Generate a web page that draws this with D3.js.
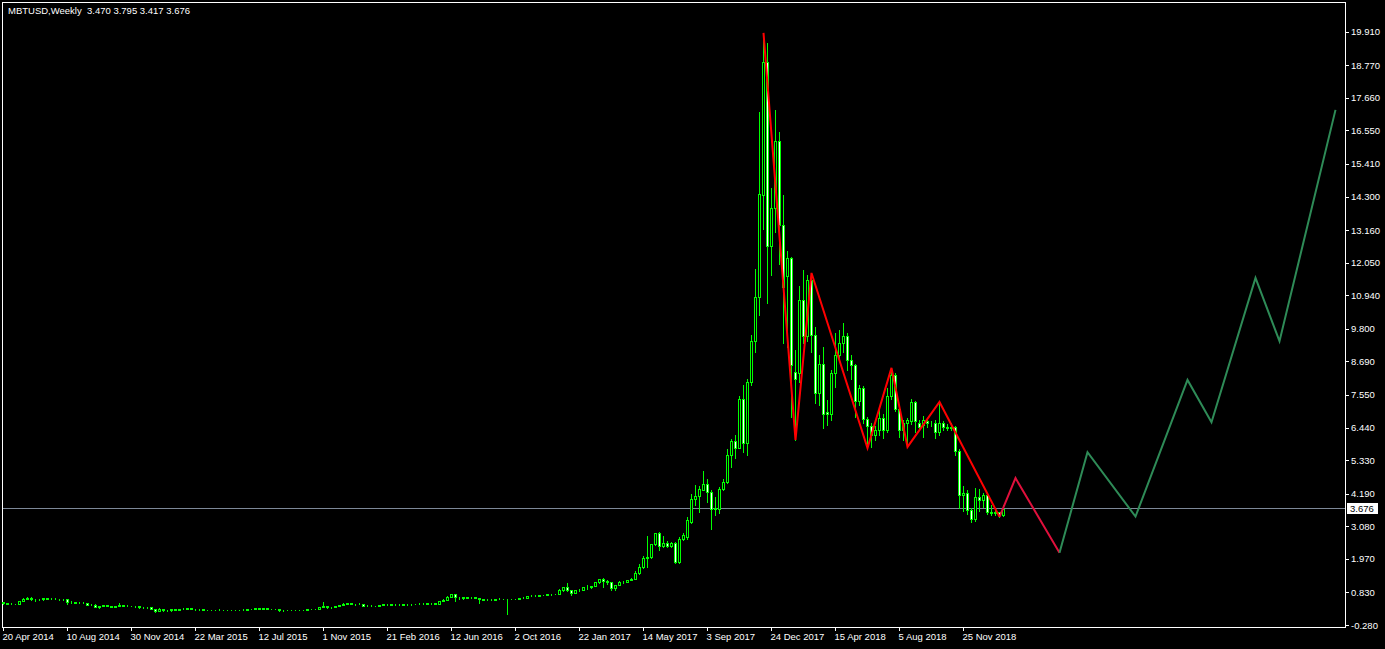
<!DOCTYPE html>
<html>
<head>
<meta charset="utf-8">
<script src="https://cdn.jsdelivr.net/npm/d3@7"></script>
<style>
  body { margin: 0; background: #000; }
  svg { display: block; }
  .axis text { fill: #fff; font-family: "Liberation Sans", Arial, sans-serif; font-size: 9.5px; }
  .axis line { stroke: #fff; shape-rendering: crispEdges; }
  .axis path { display: none; }
</style>
</head>
<body>
<div id="chart"></div>
<script>
// weekly bars, index 0 = week of 20 Apr 2014 (values in thousands)
var opens = [
 0.50,0.46,0.44,0.44,0.45,0.53,0.62,0.65,0.59,0.60,0.59,0.63,0.62,0.62,0.60,0.59,
 0.59,0.50,0.51,0.48,0.48,0.48,0.40,0.41,0.32,0.36,0.39,0.35,0.33,0.37,0.39,0.38,
 0.38,0.37,0.35,0.32,0.32,0.32,0.27,0.21,0.25,0.23,0.22,0.26,0.24,0.27,0.28,0.29,
 0.26,0.25,0.25,0.22,0.22,0.23,0.24,0.24,0.24,0.24,0.23,0.23,0.23,0.24,0.26,0.27,
 0.29,0.28,0.29,0.28,0.26,0.26,0.23,0.23,0.24,0.23,0.23,0.24,0.24,0.25,0.27,0.28,
 0.33,0.37,0.33,0.32,0.36,0.39,0.45,0.46,0.42,0.43,0.45,0.38,0.38,0.38,0.37,0.40,
 0.42,0.43,0.41,0.41,0.41,0.42,0.42,0.42,0.43,0.45,0.45,0.46,0.46,0.45,0.53,0.58,
 0.68,0.76,0.67,0.67,0.65,0.66,0.66,0.65,0.59,0.57,0.58,0.58,0.61,0.61,0.61,0.60,
 0.61,0.62,0.64,0.65,0.70,0.70,0.70,0.74,0.73,0.77,0.77,0.79,0.90,1.00,0.90,0.82,
 0.92,0.92,1.02,1.00,1.05,1.18,1.27,1.23,1.17,0.97,1.08,1.19,1.18,1.25,1.30,1.49,
 1.69,2.00,2.03,2.48,2.85,2.41,2.51,2.40,2.51,1.85,2.65,2.70,3.23,4.01,4.11,4.31,
 4.52,4.25,3.67,3.67,4.35,4.59,5.51,5.98,5.75,7.40,5.90,8.00,9.40,10.88,14.35,18.88,
 12.62,13.91,16.19,13.33,11.60,12.22,8.33,8.30,10.78,9.57,11.46,9.60,7.60,8.60,6.97,6.90,
 8.30,8.91,9.32,9.55,8.74,8.57,7.34,7.79,6.73,6.49,6.19,6.36,6.76,6.36,7.51,8.23,
 7.07,6.36,6.59,6.66,7.31,6.59,6.53,6.66,6.59,6.59,6.28,6.59,6.45,6.42,6.45,5.63,
 4.14,4.21,3.63,3.33,4.07,3.97,4.14,3.57,3.53,3.55,3.470
];
var highs = [
 0.51,0.47,0.46,0.45,0.53,0.63,0.68,0.67,0.62,0.61,0.65,0.64,0.63,0.63,0.60,0.60,
 0.59,0.53,0.51,0.49,0.49,0.48,0.44,0.42,0.37,0.40,0.39,0.36,0.37,0.46,0.39,0.39,
 0.38,0.37,0.35,0.33,0.33,0.32,0.27,0.31,0.25,0.24,0.26,0.26,0.28,0.30,0.30,0.29,
 0.27,0.26,0.26,0.23,0.24,0.24,0.25,0.24,0.24,0.24,0.23,0.24,0.25,0.26,0.27,0.31,
 0.29,0.29,0.30,0.28,0.27,0.26,0.23,0.24,0.24,0.23,0.24,0.24,0.25,0.27,0.28,0.33,
 0.50,0.38,0.34,0.37,0.40,0.46,0.47,0.46,0.44,0.46,0.45,0.41,0.39,0.38,0.40,0.43,
 0.44,0.44,0.42,0.42,0.42,0.42,0.42,0.43,0.46,0.46,0.46,0.46,0.46,0.53,0.59,0.69,
 0.78,0.77,0.68,0.68,0.68,0.68,0.66,0.65,0.60,0.59,0.59,0.61,0.63,0.61,0.61,0.61,
 0.62,0.64,0.66,0.71,0.74,0.74,0.75,0.75,0.77,0.78,0.79,0.93,1.00,1.15,0.92,0.92,
 0.93,1.03,1.07,1.06,1.20,1.28,1.33,1.26,1.17,1.09,1.21,1.21,1.25,1.33,1.55,1.80,
 2.07,2.75,2.49,2.85,2.88,2.75,2.58,2.55,2.55,2.72,2.85,3.40,4.18,4.48,4.45,4.96,
 4.69,4.30,4.08,4.40,4.69,5.70,6.05,6.20,7.50,7.90,8.10,9.60,11.83,17.18,19.87,19.53,
 14.60,17.25,16.50,14.35,12.46,12.25,9.08,11.26,11.80,11.63,11.70,9.86,8.90,9.18,7.38,8.40,
 9.66,9.76,10.00,9.66,8.90,8.60,7.90,7.85,6.80,6.60,6.50,7.04,6.90,7.79,8.47,8.30,
 7.15,6.70,6.75,7.40,7.35,6.70,6.83,6.75,6.65,6.70,7.31,6.65,6.55,6.60,6.50,5.70,
 4.45,4.30,3.70,4.38,4.35,4.20,4.20,3.80,3.65,3.58,3.795
];
var lows = [
 0.44,0.42,0.42,0.43,0.44,0.52,0.61,0.56,0.55,0.56,0.58,0.60,0.61,0.59,0.57,0.58,
 0.45,0.48,0.48,0.47,0.47,0.39,0.39,0.32,0.29,0.36,0.35,0.32,0.32,0.36,0.35,0.36,
 0.36,0.34,0.31,0.31,0.31,0.26,0.17,0.20,0.21,0.21,0.21,0.23,0.23,0.26,0.28,0.25,
 0.24,0.24,0.22,0.22,0.22,0.22,0.23,0.23,0.23,0.22,0.22,0.22,0.23,0.24,0.25,0.26,
 0.27,0.27,0.28,0.26,0.26,0.20,0.21,0.22,0.23,0.22,0.23,0.23,0.24,0.25,0.26,0.28,
 0.32,0.30,0.31,0.32,0.35,0.39,0.43,0.42,0.41,0.42,0.36,0.37,0.37,0.36,0.37,0.40,
 0.41,0.40,0.40,0.41,0.41,0.41,0.41,0.42,0.43,0.44,0.44,0.44,0.44,0.44,0.52,0.57,
 0.66,0.55,0.62,0.62,0.64,0.65,0.65,0.48,0.57,0.57,0.57,0.57,0.60,0.60,0.10,0.59,
 0.60,0.61,0.63,0.65,0.69,0.70,0.70,0.73,0.73,0.75,0.77,0.79,0.89,0.88,0.75,0.82,
 0.88,0.91,0.95,0.99,1.05,1.15,1.00,1.10,0.90,0.92,1.08,1.15,1.17,1.24,1.28,1.45,
 1.65,1.69,2.00,2.45,2.27,2.36,2.37,2.37,1.83,1.83,2.61,2.66,3.20,3.80,3.57,4.30,
 3.91,2.99,3.46,3.53,4.33,4.55,5.10,5.40,5.75,5.60,5.50,7.90,9.00,10.27,13.20,10.68,
 11.63,13.10,12.00,9.30,9.18,6.80,6.02,8.00,9.30,9.40,9.00,7.27,7.20,6.42,6.53,6.70,
 7.82,8.70,9.00,8.40,8.10,6.80,7.20,6.60,5.74,5.78,6.02,6.20,6.10,6.30,7.40,7.00,
 6.12,6.00,5.78,6.55,6.30,6.40,6.12,6.45,6.50,6.10,6.20,6.35,6.35,6.35,5.50,3.70,
 3.60,3.50,3.22,3.25,3.60,3.75,3.50,3.45,3.45,3.40,3.417
];
var closes = [
 0.46,0.44,0.44,0.45,0.53,0.62,0.65,0.59,0.60,0.59,0.63,0.62,0.62,0.60,0.59,0.59,
 0.50,0.51,0.48,0.48,0.48,0.40,0.41,0.32,0.36,0.39,0.35,0.33,0.37,0.39,0.38,0.38,
 0.37,0.35,0.32,0.32,0.32,0.27,0.21,0.25,0.23,0.22,0.26,0.24,0.27,0.28,0.29,0.26,
 0.25,0.25,0.22,0.22,0.23,0.24,0.24,0.24,0.24,0.23,0.23,0.23,0.24,0.26,0.27,0.29,
 0.28,0.29,0.28,0.26,0.26,0.23,0.23,0.24,0.23,0.23,0.24,0.24,0.25,0.27,0.28,0.33,
 0.37,0.33,0.32,0.36,0.39,0.45,0.46,0.42,0.43,0.45,0.38,0.38,0.38,0.37,0.40,0.42,
 0.43,0.41,0.41,0.41,0.42,0.42,0.42,0.43,0.45,0.45,0.46,0.46,0.45,0.53,0.58,0.68,
 0.76,0.67,0.67,0.65,0.66,0.66,0.65,0.59,0.57,0.58,0.58,0.61,0.61,0.61,0.60,0.61,
 0.62,0.64,0.65,0.70,0.70,0.70,0.74,0.73,0.77,0.77,0.79,0.90,1.00,0.90,0.82,0.92,
 0.92,1.02,1.00,1.05,1.18,1.27,1.23,1.17,0.97,1.08,1.19,1.18,1.25,1.30,1.49,1.69,
 2.00,2.03,2.48,2.85,2.41,2.51,2.40,2.51,1.85,2.65,2.78,3.29,4.01,4.11,4.35,4.52,
 4.25,3.67,3.70,4.35,4.59,5.51,5.98,5.75,7.40,5.90,8.00,9.40,10.88,14.39,18.88,12.62,
 13.91,16.19,13.33,11.22,12.22,8.58,8.09,10.78,9.57,11.46,9.60,7.60,8.60,6.90,6.90,8.30,
 8.91,9.32,9.55,8.74,8.57,7.34,7.79,6.73,6.49,6.19,6.36,6.76,6.36,7.51,8.23,7.07,
 6.36,6.59,6.70,7.31,6.66,6.46,6.70,6.59,6.59,6.28,6.59,6.45,6.42,6.45,5.63,4.14,
 4.21,3.63,3.33,4.07,3.97,4.14,3.57,3.53,3.55,3.47,3.676
];

// x axis labels every 16 bars
var xTickIdx = [0,16,32,48,64,80,96,112,128,144,160,176,192,208,224,240];
var xTickLabels = ["20 Apr 2014","10 Aug 2014","30 Nov 2014","22 Mar 2015","12 Jul 2015",
  "1 Nov 2015","21 Feb 2016","12 Jun 2016","2 Oct 2016","22 Jan 2017","14 May 2017",
  "3 Sep 2017","24 Dec 2017","15 Apr 2018","5 Aug 2018","25 Nov 2018"];
var yTicks = [19.910,18.770,17.660,16.550,15.410,14.300,13.160,12.050,10.940,9.800,
  8.690,7.550,6.440,5.330,4.190,3.080,1.970,0.830,-0.280];

// zigzag swings (bar index, price)
var zigIdx = [190,198,202,216,222,226,234,249];
var zigVal = [19.87,6.02,11.70,5.74,8.47,5.78,7.31,3.40];
// projected path
var projRedIdx = [249,253,264];
var projRedVal = [3.40,4.72,2.18];
var projGreenIdx = [264,271,283,296,302,313,319,333];
var projGreenVal = [2.18,5.60,3.41,8.06,6.62,11.53,9.38,17.25];

var lastPrice = 3.676;
var title = "MBTUSD,Weekly  3.470 3.795 3.417 3.676";

var W = 1385, H = 649;

var svg = d3.select("#chart").append("svg")
    .attr("width", W)
    .attr("height", H)
    .style("background", "#000");

var x = d3.scaleLinear().domain([0, 240]).range([3, 963]);
var y = d3.scaleLinear().domain([-0.28, 19.91]).range([625, 31.7]);

// frame
svg.append("rect")
    .attr("x", 2.5).attr("y", 2.5)
    .attr("width", 1343).attr("height", 625)
    .attr("fill", "none").attr("stroke", "#fff")
    .attr("shape-rendering", "crispEdges");

// current price line
var py = Math.floor(y(lastPrice)) + 0.5;
svg.append("line")
    .attr("x1", 3).attr("x2", 1345)
    .attr("y1", py).attr("y2", py)
    .attr("stroke", "#7d8898").attr("stroke-width", 1)
    .attr("shape-rendering", "crispEdges");

// candles
var bars = d3.range(opens.length).map(function(i) {
  return {i: i, o: opens[i], h: Math.max(highs[i], opens[i], closes[i]),
          l: Math.min(lows[i], opens[i], closes[i]), c: closes[i]};
});

var g = svg.append("g").attr("shape-rendering", "crispEdges");

g.selectAll("line.wick")
  .data(bars)
  .enter().append("line")
    .attr("class", "wick")
    .attr("x1", function(d) { return x(d.i) + 0.5; })
    .attr("x2", function(d) { return x(d.i) + 0.5; })
    .attr("y1", function(d) { return Math.round(y(d.h)); })
    .attr("y2", function(d) { return Math.round(y(d.l)) + 1; })
    .attr("stroke", "#00ff00");

g.selectAll("rect.body")
  .data(bars)
  .enter().append("rect")
    .attr("class", "body")
    .attr("x", function(d) { return x(d.i) - 0.5; })
    .attr("y", function(d) { return Math.round(y(Math.max(d.o, d.c))) + 0.5; })
    .attr("width", 2)
    .attr("height", function(d) {
      return Math.round(y(Math.min(d.o, d.c))) - Math.round(y(Math.max(d.o, d.c)));
    })
    .attr("fill", function(d) { return d.c >= d.o ? "#000" : "#fff"; })
    .attr("stroke", "#00ff00");

// zigzag + projection
var line = d3.line()
    .x(function(d) { return x(d[0]) + 0.5; })
    .y(function(d) { return y(d[1]); });

svg.append("path")
    .datum(d3.zip(zigIdx, zigVal))
    .attr("d", line)
    .attr("fill", "none").attr("stroke", "#ff0000").attr("stroke-width", 2);

svg.append("path")
    .datum(d3.zip(projRedIdx, projRedVal))
    .attr("d", line)
    .attr("fill", "none").attr("stroke", "#e0103c").attr("stroke-width", 2);

svg.append("path")
    .datum(d3.zip(projGreenIdx, projGreenVal))
    .attr("d", line)
    .attr("fill", "none").attr("stroke", "#2e8b57").attr("stroke-width", 2);

// Y axis (right)
svg.append("g")
    .attr("class", "axis")
    .attr("transform", "translate(1345,0)")
    .call(d3.axisRight(y).tickValues(yTicks).tickSize(4).tickPadding(2)
      .tickFormat(function(d) { return d.toFixed(3); }));

// X axis
var xAxis = svg.append("g")
    .attr("class", "axis")
    .attr("transform", "translate(0,627)")
    .call(d3.axisBottom(x).tickValues(xTickIdx).tickSize(4).tickPadding(2)
      .tickFormat(function(d, i) { return xTickLabels[i]; }));
xAxis.selectAll("text").attr("text-anchor", "start").attr("x", -1);

// current price label
svg.append("rect")
    .attr("x", 1347).attr("y", Math.round(y(lastPrice)) - 6)
    .attr("width", 31).attr("height", 11)
    .attr("fill", "#fff");
svg.append("text")
    .attr("x", 1350).attr("y", Math.round(y(lastPrice)) + 3)
    .attr("font-family", "Liberation Sans, Arial, sans-serif")
    .attr("font-size", "9.5px")
    .attr("fill", "#000")
    .text(d3.format(".3f")(lastPrice));

// title
svg.append("text")
    .attr("x", 8).attr("y", 14)
    .attr("font-family", "Liberation Sans, Arial, sans-serif")
    .attr("font-size", "9.5px")
    .attr("fill", "#fff")
    .attr("xml:space", "preserve")
    .style("white-space", "pre")
    .text(title);
</script>
</body>
</html>
